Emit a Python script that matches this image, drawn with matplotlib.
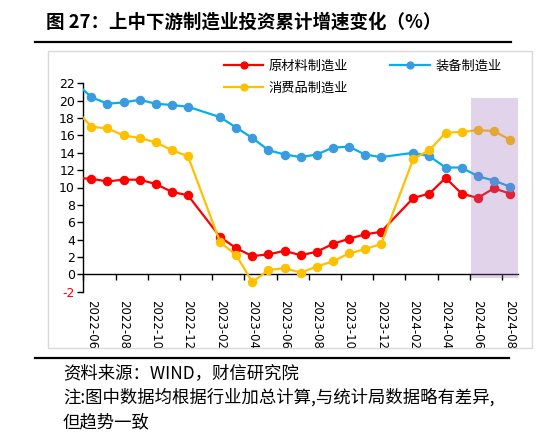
import matplotlib
matplotlib.use("Agg")
import matplotlib.pyplot as plt
import pandas as pd
from matplotlib.lines import Line2D

plt.rcParams['font.family'] = ['Noto Sans CJK SC', 'DejaVu Sans']

# ---------------- data ----------------
months = ['2022-05', '2022-06', '2022-07', '2022-08', '2022-09', '2022-10', '2022-11', '2022-12',
          '2023-02', '2023-03', '2023-04', '2023-05', '2023-06', '2023-07', '2023-08', '2023-09',
          '2023-10', '2023-11', '2023-12',
          '2024-02', '2024-03', '2024-04', '2024-05', '2024-06', '2024-07', '2024-08']
raw_material = [11.1, 11.0, 10.7, 10.9, 10.9, 10.4, 9.5, 9.1,
                4.3, 3.0, 2.1, 2.3, 2.7, 2.2, 2.6, 3.5, 4.1, 4.6, 4.9,
                8.8, 9.3, 11.1, 9.3, 8.8, 9.9, 9.3]
equipment = [22.1, 20.4, 19.65, 19.8, 20.1, 19.65, 19.5, 19.3,
             18.1, 16.9, 15.7, 14.3, 13.8, 13.5, 13.8, 14.6, 14.7, 13.8, 13.5,
             14.0, 13.6, 12.3, 12.3, 11.3, 10.8, 10.1]
consumer = [19.0, 17.0, 16.8, 16.0, 15.7, 15.2, 14.3, 13.6,
            3.7, 2.2, -0.9, 0.5, 0.7, 0.2, 0.9, 1.5, 2.4, 2.9, 3.5,
            13.3, 14.3, 16.3, 16.4, 16.6, 16.5, 15.5]
tick_labels = ['2022-06', '2022-08', '2022-10', '2022-12', '2023-02', '2023-04', '2023-06',
               '2023-08', '2023-10', '2023-12', '2024-02', '2024-04', '2024-06', '2024-08']
series_names = ['原材料制造业', '装备制造业', '消费品制造业']
highlight = ('2024-06', '2024-08')

# month offsets relative to 2022-06
base = pd.Period('2022-06', freq='M')
def mpos(s):
    return (pd.Period(s, freq='M') - base).n

x = [mpos(m) for m in months]
tick_x = [mpos(t) for t in tick_labels]

# ---------------- figure ----------------
W, H = 559, 442
fig = plt.figure(figsize=(W / 100, H / 100), dpi=100)

def fx(px):
    return px / W

def fy(py):
    return 1 - py / H

# title
fig.text(fx(46), fy(22), '图 27：上中下游制造业投资累计增速变化（%）', fontsize=13.3,
         fontweight='bold', va='center', ha='left', color='#000000')
fig.add_artist(Line2D([fx(35), fx(511)], [fy(41.5), fy(41.5)], color='black', lw=1.6))

# chart frame
fig.add_artist(plt.Rectangle((fx(48), fy(348)), fx(532) - fx(48), fy(51) - fy(348),
                             fill=False, edgecolor='#D9D9D9', lw=1.0))

ax = fig.add_axes([fx(83.3), fy(291.7), fx(518) - fx(83.3), fy(83.3) - fy(291.7)])
ax.set_xlim(-0.5, 26.5)
ax.set_ylim(-2, 22)

red_line, red_mk = '#FF0000', '#FF0000'
blue_line, blue_mk = '#00B0F0', '#3A9BDF'
org_line, org_mk = '#FFC000', '#FFC000'

l1, = ax.plot(x, raw_material, color=red_line, lw=1.6, marker='o', ms=5.8,
              mfc=red_mk, mec=red_mk, zorder=3, label=series_names[0])
l2, = ax.plot(x, equipment, color=blue_line, lw=1.6, marker='o', ms=5.8,
              mfc=blue_mk, mec=blue_mk, zorder=3, label=series_names[1])
l3, = ax.plot(x, consumer, color=org_line, lw=1.6, marker='o', ms=5.8,
              mfc=org_mk, mec=org_mk, zorder=3, label=series_names[2])

# highlight band (drawn on top, translucent)
ax.axvspan(mpos(highlight[0]) - 0.4, mpos(highlight[1]) + 0.5, ymin=(-0.4 + 2) / 24,
           ymax=(20.3 + 2) / 24, color='#9E70B9', alpha=0.3, lw=0, zorder=4)

# axes styling
for s in ['top', 'right']:
    ax.spines[s].set_visible(False)
ax.spines['left'].set_color('black')
ax.spines['left'].set_linewidth(1.0)
ax.spines['bottom'].set_position(('data', 0))
ax.spines['bottom'].set_color('black')
ax.spines['bottom'].set_linewidth(1.0)

yt = list(range(-2, 23, 2))
ax.set_yticks(yt)
ax.set_yticklabels([str(v) for v in yt], fontsize=9, fontfamily='DejaVu Sans')
for lbl, v in zip(ax.get_yticklabels(), yt):
    lbl.set_color('#FF0000' if v < 0 else '#000000')
ax.tick_params(axis='y', direction='out', length=4, width=1, pad=2)

# x tick marks between labels
ax.set_xticks([t - 0.5 for t in tick_x])
ax.set_xticklabels([])
ax.tick_params(axis='x', direction='out', length=4, width=1)

for t, lab in zip(tick_x, tick_labels):
    ax.text(t, -0.04, lab, transform=ax.get_xaxis_transform(), rotation=-90,
            ha='center', va='top', fontsize=8.5, fontfamily='DejaVu Sans', color='#000000')

# legend
leg = fig.legend(handles=[l1, l3, l2], labels=[series_names[0], series_names[2], series_names[1]],
                 ncol=2, loc='upper left', bbox_to_anchor=(fx(212), fy(48)), frameon=False,
                 fontsize=9.5, handlelength=3.0, columnspacing=3.2, labelspacing=0.7,
                 handletextpad=0.4, markerscale=0.85)

# bottom rule and notes
fig.add_artist(Line2D([fx(35), fx(509)], [fy(357.5), fy(357.5)], color='black', lw=1.6))
notes = ['资料来源：WIND，财信研究院',
         '注:图中数据均根据行业加总计算,与统计局数据略有差异,',
         '但趋势一致']
for i, n in enumerate(notes):
    fig.text(fx(63), fy(373 + 24.5 * i), n, fontsize=12.5, va='center', ha='left',
             color='#000000')

fig.savefig('out.png', dpi=100)
